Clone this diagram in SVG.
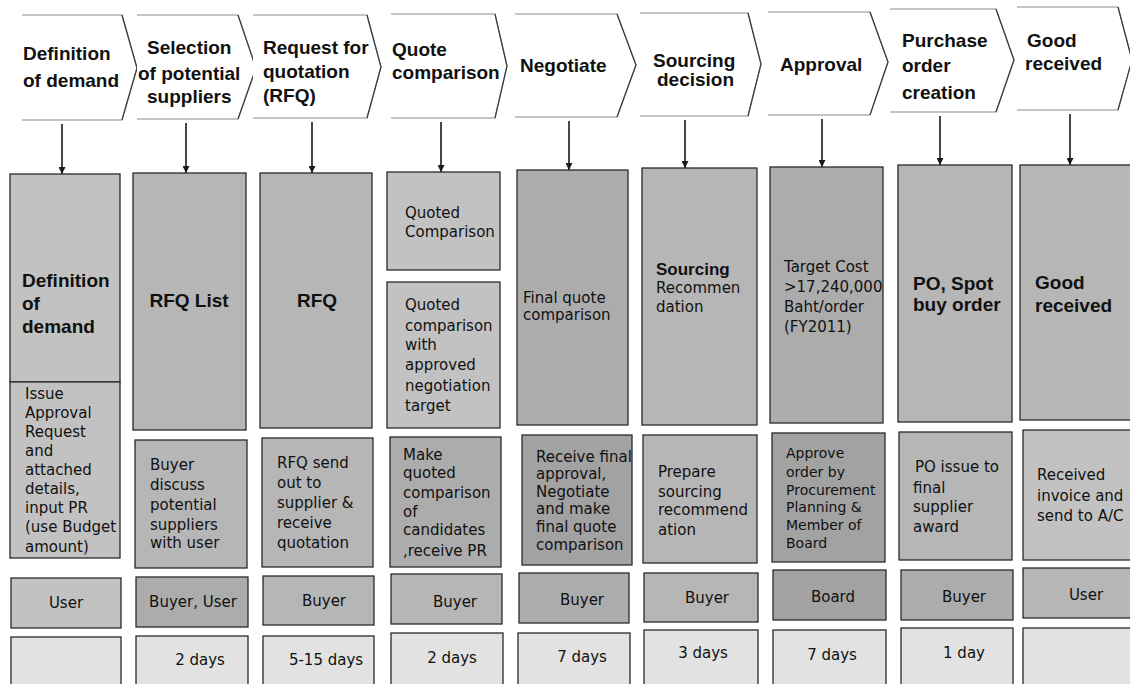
<svg xmlns="http://www.w3.org/2000/svg" width="1130" height="684" viewBox="0 0 1130 684">
  <style>
    .chev { fill: #ffffff; stroke: #8c8c8c; stroke-width: 1.2; }
    .tip { fill: none; stroke: #3c3c3c; stroke-width: 1.2; }
    .head { font-family: "Liberation Sans", Arial, sans-serif; font-weight: bold; font-size: 19px; fill: #111; }
    .big { font-family: "Liberation Sans", Arial, sans-serif; font-weight: bold; font-size: 19px; fill: #111; }
    .txt { font-family: "DejaVu Sans", Verdana, sans-serif; font-size: 15px; fill: #111; }
    .sm { font-family: "DejaVu Sans", Verdana, sans-serif; font-size: 14px; fill: #111; }
    .mid { text-anchor: middle; }
    .box { stroke: #2a2a2a; stroke-width: 1.3; }
    .g1 { fill: #c2c2c2; }
    .g2 { fill: #b6b6b6; }
    .g3 { fill: #acacac; }
    .g4 { fill: #a2a2a2; }
    .light { fill: #e2e2e2; }
    .conn { stroke: #1a1a1a; stroke-width: 1.6; fill: none; marker-end: url(#arr); }
  </style>
  <defs>
    <marker id="arr" viewBox="0 0 10 10" refX="10" refY="5" markerWidth="7" markerHeight="7" orient="auto" markerUnits="userSpaceOnUse">
      <path d="M0,0 L10,5 L0,10 z" fill="#1a1a1a"/>
    </marker>
  </defs>
  <rect width="1130" height="684" fill="#ffffff"/>

  <!-- process steps (chevrons): light top/bottom edges, darker pointed side -->
  <g id="step-definition">
    <path class="chev" d="M22,15 L122,15 L137,68 L122,120 L22,120"/>
    <path class="tip" d="M122,15 L137,68 L122,120"/>
    <text class="head" x="23" y="60">Definition</text>
    <text class="head" x="23" y="87">of demand</text>
  </g>
  <g id="step-selection">
    <path class="chev" d="M137,15 L238,15 L256,68 L238,119 L137,119"/>
    <path class="tip" d="M238,15 L256,68 L238,119"/>
    <text class="head" x="147" y="54">Selection</text>
    <text class="head" x="138" y="80">of potential</text>
    <text class="head" x="147" y="103">suppliers</text>
  </g>
  <g id="step-rfq">
    <path class="chev" d="M253,15 L367,15 L381,67 L367,118 L253,118"/>
    <path class="tip" d="M367,15 L381,67 L367,118"/>
    <text class="head" x="263" y="54">Request for</text>
    <text class="head" x="263" y="78">quotation</text>
    <text class="head" x="263" y="102">(RFQ)</text>
  </g>
  <g id="step-quote">
    <path class="chev" d="M391,14 L495,14 L507,66 L495,118 L391,118"/>
    <path class="tip" d="M495,14 L507,66 L495,118"/>
    <text class="head" x="392" y="56">Quote</text>
    <text class="head" x="392" y="79">comparison</text>
  </g>
  <g id="step-negotiate">
    <path class="chev" d="M515,14 L617,14 L636,65 L617,117 L515,117"/>
    <path class="tip" d="M617,14 L636,65 L617,117"/>
    <text class="head" x="520" y="72">Negotiate</text>
  </g>
  <g id="step-sourcing">
    <path class="chev" d="M640,13 L748,13 L761,64 L748,116 L640,116"/>
    <path class="tip" d="M748,13 L761,64 L748,116"/>
    <text class="head" x="653" y="67">Sourcing</text>
    <text class="head" x="657" y="86">decision</text>
  </g>
  <g id="step-approval">
    <path class="chev" d="M768,12 L870,12 L888,62 L870,115 L768,115"/>
    <path class="tip" d="M870,12 L888,62 L870,115"/>
    <text class="head" x="780" y="71">Approval</text>
  </g>
  <g id="step-po">
    <path class="chev" d="M890,9 L996,9 L1014,60 L996,112 L890,112"/>
    <path class="tip" d="M996,9 L1014,60 L996,112"/>
    <text class="head" x="902" y="47">Purchase</text>
    <text class="head" x="902" y="72">order</text>
    <text class="head" x="902" y="99">creation</text>
  </g>
  <g id="step-received">
    <path class="chev" d="M1017,7 L1118,7 L1132,60 L1118,110 L1017,110"/>
    <path class="tip" d="M1118,7 L1132,60 L1118,110"/>
    <text class="head" x="1027" y="47">Good</text>
    <text class="head" x="1025" y="70">received</text>
  </g>

  <!-- arrows from each step down to its detail column -->
  <g id="connectors">
    <line class="conn" x1="62" y1="124" x2="62" y2="174"/>
    <line class="conn" x1="186" y1="123" x2="186" y2="173"/>
    <line class="conn" x1="312" y1="122" x2="312" y2="173"/>
    <line class="conn" x1="441" y1="122" x2="441" y2="172"/>
    <line class="conn" x1="569" y1="121" x2="569" y2="170"/>
    <line class="conn" x1="685" y1="120" x2="685" y2="168"/>
    <line class="conn" x1="822" y1="119" x2="822" y2="167"/>
    <line class="conn" x1="940" y1="116" x2="940" y2="165"/>
    <line class="conn" x1="1070" y1="114" x2="1070" y2="165"/>
  </g>

  <!-- column 1 -->
  <g id="col1-output">
    <rect class="box g1" x="10" y="174" width="110" height="208"/>
    <text class="big" x="22" y="287">Definition</text>
    <text class="big" x="22" y="310">of</text>
    <text class="big" x="22" y="333">demand</text>
  </g>
  <g id="col1-activity">
    <rect class="box g1" x="10" y="382" width="110" height="176"/>
    <text class="txt" x="25" y="399">Issue</text>
    <text class="txt" x="25" y="418">Approval</text>
    <text class="txt" x="25" y="437">Request</text>
    <text class="txt" x="25" y="456">and</text>
    <text class="txt" x="25" y="475">attached</text>
    <text class="txt" x="25" y="494">details,</text>
    <text class="txt" x="25" y="513">input PR</text>
    <text class="txt" x="25" y="532">(use Budget</text>
    <text class="txt" x="25" y="552">amount)</text>
  </g>
  <g id="col1-role">
    <rect class="box g1" x="11" y="578" width="110" height="50"/>
    <text class="txt mid" x="66" y="608">User</text>
  </g>
  <g id="col1-time">
    <rect class="box light" x="11" y="637" width="110" height="60"/>
  </g>

  <!-- column 2 -->
  <g id="col2-output">
    <rect class="box g2" x="133" y="173" width="113" height="257"/>
    <text class="big mid" x="189" y="307">RFQ List</text>
  </g>
  <g id="col2-activity">
    <rect class="box g2" x="135" y="440" width="112" height="128"/>
    <text class="txt" x="150" y="470">Buyer</text>
    <text class="txt" x="150" y="490">discuss</text>
    <text class="txt" x="150" y="510">potential</text>
    <text class="txt" x="150" y="530">suppliers</text>
    <text class="txt" x="150" y="548">with user</text>
  </g>
  <g id="col2-role">
    <rect class="box g3" x="136" y="577" width="112" height="50"/>
    <text class="txt mid" x="193" y="607">Buyer, User</text>
  </g>
  <g id="col2-time">
    <rect class="box light" x="136" y="636" width="112" height="60"/>
    <text class="txt mid" x="200" y="665">2 days</text>
  </g>

  <!-- column 3 -->
  <g id="col3-output">
    <rect class="box g2" x="260" y="173" width="112" height="255"/>
    <text class="big mid" x="317" y="307">RFQ</text>
  </g>
  <g id="col3-activity">
    <rect class="box g2" x="262" y="438" width="111" height="129"/>
    <text class="txt" x="277" y="468">RFQ send</text>
    <text class="txt" x="277" y="488">out to</text>
    <text class="txt" x="277" y="508">supplier &amp;</text>
    <text class="txt" x="277" y="528">receive</text>
    <text class="txt" x="277" y="548">quotation</text>
  </g>
  <g id="col3-role">
    <rect class="box g2" x="263" y="576" width="111" height="49"/>
    <text class="txt mid" x="324" y="606">Buyer</text>
  </g>
  <g id="col3-time">
    <rect class="box light" x="263" y="636" width="111" height="60"/>
    <text class="txt mid" x="326" y="665">5-15  days</text>
  </g>

  <!-- column 4 -->
  <g id="col4-output">
    <rect class="box g1" x="387" y="172" width="113" height="98"/>
    <text class="txt" x="405" y="218">Quoted</text>
    <text class="txt" x="405" y="237">Comparison</text>
  </g>
  <g id="col4-target">
    <rect class="box g1" x="387" y="282" width="113" height="146"/>
    <text class="txt" x="405" y="310">Quoted</text>
    <text class="txt" x="405" y="331">comparison</text>
    <text class="txt" x="405" y="350">with</text>
    <text class="txt" x="405" y="370">approved</text>
    <text class="txt" x="405" y="391">negotiation</text>
    <text class="txt" x="405" y="411">target</text>
  </g>
  <g id="col4-activity">
    <rect class="box g3" x="390" y="437" width="111" height="130"/>
    <text class="txt" x="403" y="460">Make</text>
    <text class="txt" x="403" y="478">quoted</text>
    <text class="txt" x="403" y="498">comparison</text>
    <text class="txt" x="403" y="517">of</text>
    <text class="txt" x="403" y="535">candidates</text>
    <text class="txt" x="403" y="556">,receive PR</text>
  </g>
  <g id="col4-role">
    <rect class="box g2" x="391" y="574" width="111" height="50"/>
    <text class="txt mid" x="455" y="607">Buyer</text>
  </g>
  <g id="col4-time">
    <rect class="box light" x="391" y="633" width="112" height="63"/>
    <text class="txt mid" x="452" y="663">2 days</text>
  </g>

  <!-- column 5 -->
  <g id="col5-output">
    <rect class="box g3" x="517" y="170" width="111" height="255"/>
    <text class="txt" x="523" y="303">Final quote</text>
    <text class="txt" x="523" y="320">comparison</text>
  </g>
  <g id="col5-activity">
    <rect class="box g4" x="522" y="435" width="110" height="130"/>
    <text class="txt" x="536" y="462">Receive final</text>
    <text class="txt" x="536" y="479">approval,</text>
    <text class="txt" x="536" y="497">Negotiate</text>
    <text class="txt" x="536" y="514">and make</text>
    <text class="txt" x="536" y="532">final quote</text>
    <text class="txt" x="536" y="550">comparison</text>
  </g>
  <g id="col5-role">
    <rect class="box g3" x="519" y="573" width="110" height="50"/>
    <text class="txt mid" x="582" y="605">Buyer</text>
  </g>
  <g id="col5-time">
    <rect class="box light" x="518" y="633" width="112" height="63"/>
    <text class="txt mid" x="582" y="662">7 days</text>
  </g>

  <!-- column 6 -->
  <g id="col6-output">
    <rect class="box g2" x="642" y="168" width="115" height="257"/>
    <text class="big" x="656" y="275" style="font-size:17px">Sourcing</text>
    <text class="txt" x="656" y="293">Recommen</text>
    <text class="txt" x="656" y="312">dation</text>
  </g>
  <g id="col6-activity">
    <rect class="box g2" x="643" y="435" width="114" height="128"/>
    <text class="txt" x="658" y="477">Prepare</text>
    <text class="txt" x="658" y="497">sourcing</text>
    <text class="txt" x="658" y="515">recommend</text>
    <text class="txt" x="658" y="535">ation</text>
  </g>
  <g id="col6-role">
    <rect class="box g2" x="644" y="573" width="114" height="49"/>
    <text class="txt mid" x="707" y="603">Buyer</text>
  </g>
  <g id="col6-time">
    <rect class="box light" x="644" y="630" width="114" height="66"/>
    <text class="txt mid" x="703" y="658">3 days</text>
  </g>

  <!-- column 7 -->
  <g id="col7-output">
    <rect class="box g3" x="770" y="167" width="113" height="256"/>
    <text class="txt" x="784" y="272">Target Cost</text>
    <text class="txt" x="784" y="292">&gt;17,240,000</text>
    <text class="txt" x="784" y="312">Baht/order</text>
    <text class="txt" x="784" y="332">(FY2011)</text>
  </g>
  <g id="col7-activity">
    <rect class="box g4" x="772" y="433" width="113" height="129"/>
    <text class="sm" x="786" y="458">Approve</text>
    <text class="sm" x="786" y="477">order by</text>
    <text class="sm" x="786" y="495">Procurement</text>
    <text class="sm" x="786" y="512">Planning &amp;</text>
    <text class="sm" x="786" y="530">Member of</text>
    <text class="sm" x="786" y="548">Board</text>
  </g>
  <g id="col7-role">
    <rect class="box g4" x="773" y="570" width="113" height="50"/>
    <text class="txt mid" x="833" y="602">Board</text>
  </g>
  <g id="col7-time">
    <rect class="box light" x="773" y="630" width="113" height="66"/>
    <text class="txt mid" x="832" y="660">7 days</text>
  </g>

  <!-- column 8 -->
  <g id="col8-output">
    <rect class="box g2" x="898" y="165" width="114" height="257"/>
    <text class="big" x="913" y="290">PO, Spot</text>
    <text class="big" x="913" y="311">buy order</text>
  </g>
  <g id="col8-activity">
    <rect class="box g2" x="899" y="432" width="113" height="128"/>
    <text class="txt" x="915" y="472">PO issue to</text>
    <text class="txt" x="913" y="493">final</text>
    <text class="txt" x="913" y="512">supplier</text>
    <text class="txt" x="913" y="532">award</text>
  </g>
  <g id="col8-role">
    <rect class="box g3" x="901" y="570" width="112" height="50"/>
    <text class="txt mid" x="964" y="602">Buyer</text>
  </g>
  <g id="col8-time">
    <rect class="box light" x="901" y="628" width="112" height="68"/>
    <text class="txt mid" x="964" y="658">1 day</text>
  </g>

  <!-- column 9 -->
  <g id="col9-output">
    <rect class="box g2" x="1020" y="165" width="115" height="255"/>
    <text class="big" x="1035" y="289">Good</text>
    <text class="big" x="1035" y="312">received</text>
  </g>
  <g id="col9-activity">
    <rect class="box g1" x="1023" y="430" width="112" height="130"/>
    <text class="txt" x="1037" y="480">Received</text>
    <text class="txt" x="1037" y="501">invoice and</text>
    <text class="txt" x="1037" y="521">send to A/C</text>
  </g>
  <g id="col9-role">
    <rect class="box g2" x="1023" y="568" width="112" height="50"/>
    <text class="txt mid" x="1086" y="600">User</text>
  </g>
  <g id="col9-time">
    <rect class="box light" x="1023" y="628" width="112" height="68"/>
  </g>
</svg>
